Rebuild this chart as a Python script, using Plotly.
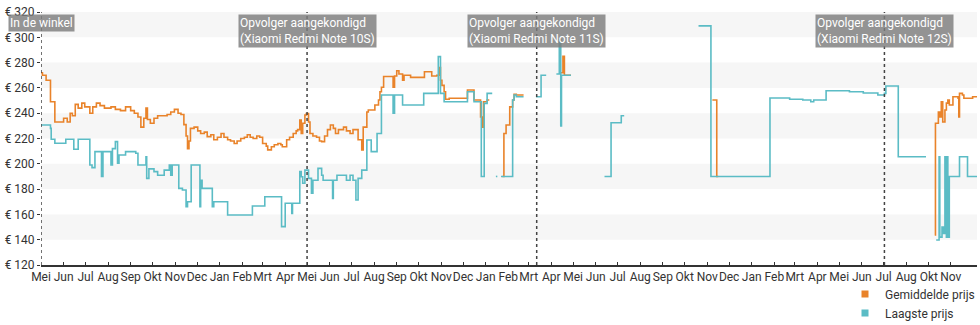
import plotly.graph_objects as go
import pandas as pd

# ---------------- data ----------------
avg_dates = [
    "2020-05-01","2020-05-03","2020-05-08","2020-05-14","2020-05-20","2020-06-01","2020-06-06","2020-06-10",
    "2020-06-13","2020-06-17","2020-06-21","2020-06-26","2020-06-30","2020-07-07","2020-07-11","2020-07-16",
    "2020-07-21","2020-07-27","2020-08-05","2020-08-11","2020-08-18","2020-08-25","2020-09-01","2020-09-06",
    "2020-09-11","2020-09-15","2020-09-19","2020-09-22","2020-09-24","2020-09-28","2020-10-03","2020-10-08",
    "2020-10-21","2020-10-26","2020-10-31","2020-11-05","2020-11-09","2020-11-13","2020-11-16","2020-11-18",
    "2020-11-20","2020-11-22","2020-11-27","2020-12-02","2020-12-06","2020-12-11","2020-12-15","2020-12-20",
    "2020-12-24","2020-12-29","2021-01-03","2021-01-07","2021-01-12","2021-01-16","2021-01-21","2021-01-25",
    "2021-01-30","2021-02-04","2021-02-08","2021-02-12","2021-02-16","2021-02-21","2021-02-25","2021-03-01",
    "2021-03-06","2021-03-08","2021-03-13","2021-03-17","2021-03-22","2021-03-26","2021-03-28","2021-04-03",
    "2021-04-07","2021-04-12","2021-04-16","2021-04-18","2021-04-21","2021-04-23","2021-04-25","2021-04-28",
    "2021-04-30","2021-05-03","2021-05-05","2021-05-09","2021-05-14","2021-05-18","2021-05-21","2021-05-25",
    "2021-05-29","2021-06-02","2021-06-06","2021-06-09","2021-06-13","2021-06-20","2021-06-24","2021-06-29",
    "2021-07-03","2021-07-10","2021-07-15","2021-07-17","2021-07-22","2021-07-24","2021-08-02","2021-08-07",
    "2021-08-09","2021-08-11","2021-08-14","2021-08-27","2021-08-29","2021-09-01","2021-09-04","2021-09-09",
    "2021-09-11","2021-09-20","2021-10-09","2021-10-19","2021-10-26","2021-10-29","2021-10-31","2021-11-02",
    "2021-11-05","2021-11-07","2021-11-12","2021-12-07","2021-12-16","2021-12-25","2021-12-27","2021-12-29",
    "2022-01-03","2022-01-06","2022-01-07",
    "2022-01-24","2022-01-26","2022-01-29","2022-02-03","2022-02-07","2022-02-09","2022-02-12","2022-02-22","2022-02-23",
    "2022-04-12","2022-04-17","2022-04-19","2022-04-28","2022-04-29",
    "2022-11-08","2022-11-14","2022-11-16","2022-11-17",
    "2023-09-09","2023-09-10","2023-09-14","2023-09-16","2023-09-18","2023-09-20","2023-09-23","2023-09-25",
    "2023-09-27","2023-09-29","2023-10-04","2023-10-11","2023-10-12","2023-10-13","2023-10-17","2023-10-19",
    "2023-10-31","2023-11-06",
]
avg_prices = [
    272,270,266,249,233,236,233,240,
    238,247,244,248,245,240,245,248,
    246,244,245,243,242,245,242,240,
    237,229,236,244,235,232,236,238,
    239,241,243,240,239,231,222,212,
    218,228,229,226,224,225,221.5,223,
    219,221,224,221,219,218,216,218,
    220,221,223,221,220,222,221,216,
    214,211,213.5,215,216,215,213.5,219,
    221,224,226,227,234.6,224,232,238.6,
    239.7,233,224,222,221,218,217.5,222,
    227,230.7,228,224,227,229,226,224,
    227,219,211,229,241,242.5,246.5,250.4,
    257,260.5,269,260.5,269.4,273.6,271,266,
    270,268.3,272.8,269.4,270,276,266,262,
    257,251,251.8,258.3,250.4,237,229,249,
    250.4,250.4,None,
    190,224,230.7,245,250.4,255,254.4,254.4,None,
    272,285,270,270,None,
    250.4,190,190,None,
    143.7,232,241,237,249,233,242.5,248,
    250.4,246.5,253,251.8,237,255.7,254.4,251.8,
    253,253,
]

low_dates = [
    "2020-05-01","2020-05-14","2020-05-15","2020-05-20","2020-06-04","2020-06-15","2020-06-21","2020-07-07",
    "2020-07-10","2020-07-14","2020-07-23","2020-07-25","2020-08-05","2020-08-07","2020-08-11","2020-08-14",
    "2020-08-16","2020-08-25","2020-09-08","2020-09-11","2020-09-22","2020-09-23","2020-09-26","2020-10-03",
    "2020-10-08","2020-10-17","2020-10-24","2020-10-26","2020-10-28","2020-11-06","2020-11-11","2020-11-16",
    "2020-11-18","2020-11-23","2020-12-05","2020-12-06","2020-12-08","2020-12-22","2020-12-24","2021-01-12",
    "2021-02-15","2021-03-04","2021-03-27","2021-04-01","2021-04-10","2021-04-11","2021-04-21","2021-04-23",
    "2021-04-25","2021-04-28","2021-05-03","2021-05-07","2021-05-09","2021-05-16","2021-05-21","2021-05-23",
    "2021-06-05","2021-06-06","2021-06-11","2021-06-24","2021-06-29","2021-07-03","2021-07-07","2021-07-10",
    "2021-07-15","2021-07-22","2021-07-28","2021-08-05","2021-08-11","2021-08-27","2021-08-29","2021-09-09",
    "2021-10-08","2021-10-28","2021-10-31","2021-11-05","2021-12-07","2021-12-16","2021-12-26","2021-12-30",
    "2022-01-03","2022-01-10","2022-01-11",
    "2022-01-15","2022-01-17","2022-01-18","2022-01-22","2022-02-07","2022-02-09","2022-02-12","2022-02-22","2022-02-23",
    "2022-03-11","2022-03-18","2022-03-25","2022-03-26",
    "2022-04-08","2022-04-12","2022-04-14","2022-04-15","2022-04-28","2022-04-29",
    "2022-06-13","2022-06-22","2022-07-06","2022-07-10","2022-07-11",
    "2022-10-20","2022-11-06","2023-01-26","2023-02-22","2023-03-12","2023-03-23","2023-03-27","2023-04-13",
    "2023-05-15","2023-06-03","2023-06-23","2023-07-02","2023-07-04","2023-07-21","2023-08-28","2023-08-29",
    "2023-09-11","2023-09-15","2023-09-16","2023-09-19","2023-09-21","2023-09-23","2023-09-25","2023-09-26",
    "2023-09-27","2023-09-29","2023-10-13","2023-10-24","2023-11-06",
]
low_prices = [
    230.7,228,219.4,216.2,219.4,211.5,219.4,199,
    197,209.6,190,209.6,199,212,217.5,200.4,
    207,209.6,208.3,199,205.6,188.5,196,193.8,
    191,195,199,191,199,180.6,179.3,166,
    170,199,166,187,180.6,166,170,159.5,
    166.6,174,150.3,168.8,160.8,168.8,193.8,189.8,
    184.6,195,188.5,176.7,187,196.4,191,187,
    172.7,187,191,187,191,187,171.4,188.5,
    195,218.8,209.6,224,254.4,240,254.4,246.5,
    255.7,284.7,255.7,249,257,249,190,247.8,
    255.7,255.7,None,
    190,190,None,190,250.4,254.4,253,253,None,
    253,270,270,None,
    271,298,230,270,270,None,
    190,232.5,238,238,None,
    309,190,252,251,250.4,249,250.4,257.8,
    257,256,254.4,255.7,261.5,205.6,205.6,None,
    139.8,205.6,142,150,145,205.6,142,205.6,
    142,190,205.6,190,190,
]

events = ["2020-05-01", "2021-05-01", "2022-03-12", "2023-07-02"]
event_labels = [
    "In de winkel",
    "Opvolger aangekondigd<br>(Xiaomi Redmi Note 10S)",
    "Opvolger aangekondigd<br>(Xiaomi Redmi Note 11S)",
    "Opvolger aangekondigd<br>(Xiaomi Redmi Note 12S)",
]

tick_labels = [
    "Mei","Jun","Jul","Aug","Sep","Okt","Nov","Dec","Jan","Feb","Mrt","Apr",
    "Mei","Jun","Jul","Aug","Sep","Okt","Nov","Dec","Jan","Feb","Mrt","Apr",
    "Mei","Jun","Jul","Aug","Sep","Okt","Nov","Dec","Jan","Feb","Mrt","Apr",
    "Mei","Jun","Jul","Aug","Okt","Nov",
]
y_ticks = [120, 140, 160, 180, 200, 220, 240, 260, 280, 300, 320]
y_tick_labels = ["€ 120", "€ 140", "€ 160", "€ 180", "€ 200", "€ 220", "€ 240", "€ 260", "€ 280", "€ 300", "€ 320"]
bands = [(140, 160), (180, 200), (220, 240), (260, 280), (300, 320)]

ORANGE = "#e9832a"
TEAL = "#5bbcc5"
FONT = "Roboto"

# ---------------- figure ----------------
fig = go.Figure()
fig.add_trace(go.Scatter(x=avg_dates, y=avg_prices, mode="lines", line=dict(color=ORANGE, width=1.6, shape="hv"),
                         connectgaps=False, showlegend=False, name="Gemiddelde prijs"))
fig.add_trace(go.Scatter(x=low_dates, y=low_prices, mode="lines", line=dict(color=TEAL, width=1.6, shape="hv"),
                         connectgaps=False, showlegend=False, name="Laagste prijs"))
# legend entries with square markers
fig.add_trace(go.Scatter(x=[None], y=[None], mode="markers", name="Gemiddelde prijs",
                         marker=dict(symbol="square", size=7, color=ORANGE)))
fig.add_trace(go.Scatter(x=[None], y=[None], mode="markers", name="Laagste prijs",
                         marker=dict(symbol="square", size=7, color=TEAL)))

shapes = []
for lo, hi in bands:
    shapes.append(dict(type="rect", xref="paper", yref="y", x0=0, x1=1, y0=lo, y1=hi,
                       fillcolor="#f6f6f6", line=dict(width=0), layer="below"))
for d in events:
    shapes.append(dict(type="line", xref="x", yref="paper", x0=d, x1=d, y0=0, y1=1,
                       line=dict(color="#444444", width=1.5, dash="dot"), layer="above"))

annotations = []
for d, t in zip(events, event_labels):
    annotations.append(dict(x=d, xref="x", y=1, yref="paper", yanchor="top", xanchor="center", yshift=-2,
                            text=t, showarrow=False, align="left",
                            font=dict(family=FONT, size=12, color="white"),
                            bgcolor="rgba(125,125,125,0.82)", borderpad=1))

tick_vals = pd.date_range("2020-05-01", periods=len(tick_labels), freq="MS")

fig.update_layout(
    width=980, height=325,
    margin=dict(l=41, r=3, t=12, b=60, autoexpand=False),
    paper_bgcolor="white", plot_bgcolor="white",
    font=dict(family=FONT, size=12, color="#333333"),
    shapes=shapes, annotations=annotations,
    legend=dict(x=1.0, xanchor="right", xref="container", y=0.14, yanchor="top", yref="container",
                font=dict(family=FONT, size=12, color="#333333"),
                itemwidth=30, tracegroupgap=0, bgcolor="rgba(0,0,0,0)"),
    xaxis=dict(type="date", range=["2020-05-01", "2023-11-06"], tickvals=tick_vals, ticktext=tick_labels,
               ticks="inside", ticklen=3, tickcolor="#333333", showline=True, linecolor="#333333", linewidth=1.5,
               showgrid=False, zeroline=False, tickangle=0, automargin=False,
               tickfont=dict(size=12, color="#333333")),
    yaxis=dict(range=[120, 320], tickvals=y_ticks, ticktext=y_tick_labels, ticks="outside", ticklen=3,
               tickcolor="#333333", showline=False, showgrid=False, zeroline=False, automargin=False,
               tickfont=dict(size=12, color="#333333")),
)

fig.write_html("out.html")
